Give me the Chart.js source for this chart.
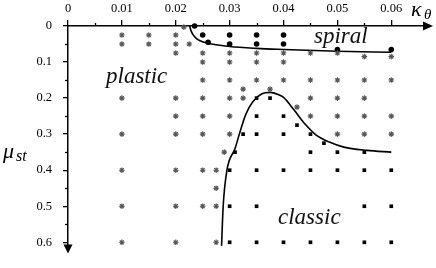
<!DOCTYPE html>
<html><head><meta charset="utf-8">
<script src="https://cdn.jsdelivr.net/npm/chart.js@4/dist/chart.umd.min.js"></script>
<style>html,body{margin:0;padding:0;background:#fff}</style>
</head><body>
<canvas id="c" width="436" height="268"></canvas>
<script>
// ---- data ----
const xTickLabels = ['0','0.01','0.02','0.03','0.04','0.05','0.06'];
const yTickLabels = ['0','0.1','0.2','0.3','0.4','0.5','0.6'];

// asterisks (plastic regime)
const starX = [0.0215,
  0.01,0.01,0.01,0.01,0.01,0.01,0.01,
  0.015,0.015,
  0.02,0.02,0.02,0.02,0.02,0.02,0.02,0.02,0.02,
  0.0225,
  0.025,0.025,0.025,0.025,0.025,0.025,0.025,0.025,
  0.0275,0.0275,0.0275,0.0275,
  0.03,0.03,0.03,0.03,0.03,0.03,
  0.029,
  0.0325,0.0325,
  0.035,0.035,0.035,
  0.0375,
  0.04,0.04,0.04,
  0.0425,
  0.045,0.045,0.045,0.045,
  0.05,0.05,0.05,0.05,0.05,
  0.055,0.055,0.055,0.055,0.055,
  0.06,0.06,0.06,0.06];
const starY = [0.003,
  0.025,0.05,0.2,0.3,0.4,0.5,0.6,
  0.025,0.05,
  0.025,0.05,0.075,0.2,0.25,0.3,0.4,0.5,0.6,
  0.05,
  0.075,0.1,0.15,0.2,0.25,0.3,0.4,0.5,
  0.4,0.45,0.5,0.6,
  0.075,0.1,0.15,0.2,0.25,0.3,
  0.35,
  0.175,0.2,
  0.075,0.1,0.15,
  0.175,
  0.075,0.1,0.15,
  0.225,
  0.075,0.15,0.2,0.25,
  0.075,0.15,0.2,0.25,0.3,
  0.085,0.15,0.2,0.25,0.3,
  0.085,0.15,0.25,0.3];

// filled circles (spiral regime)
const circleX = [0.0235,0.025,0.026,0.03,0.03,0.035,0.035,0.04,0.04,0.05,0.06];
const circleY = [0.0,0.025,0.045,0.025,0.05,0.025,0.05,0.025,0.05,0.065,0.065];

// filled squares (classic regime)
const squareX = [0.035,0.0375,
  0.035,0.04,
  0.0425,
  0.0325,0.035,0.04,0.045,
  0.0475,
  0.031,0.045,0.05,0.055,
  0.03,0.035,0.04,0.045,0.05,0.055,0.06,
  0.03,0.035,0.055,0.06,
  0.03,0.035,0.04,0.045,0.05,0.055,0.06];
const squareY = [0.2,0.2,
  0.25,0.25,
  0.275,
  0.3,0.3,0.3,0.3,
  0.325,
  0.35,0.35,0.35,0.35,
  0.4,0.4,0.4,0.4,0.4,0.4,0.4,
  0.5,0.5,0.5,0.5,
  0.6,0.6,0.6,0.6,0.6,0.6,0.6];

// boundary curves
const spiralCurveX = [0.0226,0.0228,0.0232,0.0237,0.0245,0.0257,0.0275,0.03,0.035,0.04,0.05,0.06];
const spiralCurveY = [0.0,0.012,0.024,0.033,0.041,0.047,0.052,0.057,0.062,0.065,0.07,0.073];
const classicCurveX = [0.0285,0.0288,0.0295,0.031,0.032,0.033,0.0343,0.036,0.0375,0.039,0.04,0.042,0.044,0.046,0.0485,0.0512,0.0555,0.06];
const classicCurveY = [0.61,0.5,0.4,0.34,0.29,0.245,0.21,0.188,0.184,0.19,0.198,0.234,0.272,0.302,0.322,0.336,0.345,0.35];

const zip = (xs, ys) => xs.map((x, i) => ({x, y: ys[i]}));

const overlay = {
  id: 'overlay',
  afterDraw(chart) {
    const ctx = chart.ctx, a = chart.chartArea;
    const xs = chart.scales.x, ys = chart.scales.y;
    ctx.save();
    ctx.strokeStyle = '#000'; ctx.fillStyle = '#000'; ctx.lineWidth = 1.3;
    // minor ticks
    for (let v = 0.005; v < 0.06; v += 0.01) {
      const px = Math.round(xs.getPixelForValue(v)) + 0.5;
      ctx.beginPath(); ctx.moveTo(px, a.top); ctx.lineTo(px, a.top - 3); ctx.stroke();
    }
    for (let v = 0.05; v < 0.6; v += 0.1) {
      const py = Math.round(ys.getPixelForValue(v)) + 0.5;
      ctx.beginPath(); ctx.moveTo(a.left, py); ctx.lineTo(a.left - 3, py); ctx.stroke();
    }
    // arrowheads
    ctx.beginPath();
    ctx.moveTo(a.right + 4, a.top); ctx.lineTo(a.right - 6, a.top - 4.5); ctx.lineTo(a.right - 6, a.top + 4.5); ctx.closePath(); ctx.fill();
    ctx.beginPath();
    ctx.moveTo(a.left, a.bottom + 4); ctx.lineTo(a.left - 4.5, a.bottom - 5); ctx.lineTo(a.left + 4.5, a.bottom - 5); ctx.closePath(); ctx.fill();
    // region labels
    ctx.font = 'italic 23px "Liberation Serif"';
    ctx.textAlign = 'left'; ctx.textBaseline = 'alphabetic';
    ctx.fillStyle = '#111';
    ctx.fillText('spiral', 314, 43);
    ctx.fillText('plastic', 106, 83);
    ctx.fillText('classic', 278, 224);
    // axis titles
    ctx.fillStyle = '#000';
    ctx.font = 'italic 22px "Liberation Serif"';
    ctx.fillText('\u03BA', 411, 16);
    ctx.font = 'italic 15px "Liberation Serif"';
    ctx.fillText('\u03B8', 424, 19);
    ctx.font = 'italic 22px "Liberation Serif"';
    ctx.fillText('\u03BC', 3, 158);
    ctx.font = 'italic 16px "Liberation Serif"';
    ctx.fillText('st', 16, 161);
    ctx.restore();
  }
};

new Chart(document.getElementById('c'), {
  type: 'scatter',
  data: {
    datasets: [
      {data: zip(starX, starY), pointStyle: 'star', pointRadius: 2.8, borderColor: '#555', borderWidth: 1.1, backgroundColor: '#555', clip: false},
      {data: zip(circleX, circleY), pointStyle: 'circle', pointRadius: 2.8, borderColor: '#000', backgroundColor: '#000', borderWidth: 0, clip: false},
      {data: zip(squareX, squareY), pointStyle: 'rect', pointRadius: 2.6, borderColor: '#000', backgroundColor: '#000', borderWidth: 0, clip: false},
      {data: zip(spiralCurveX, spiralCurveY), showLine: true, pointRadius: 0, borderColor: '#000', borderWidth: 1.6, cubicInterpolationMode: 'monotone', clip: false},
      {data: zip(classicCurveX, classicCurveY), showLine: true, pointRadius: 0, borderColor: '#000', borderWidth: 1.6, cubicInterpolationMode: 'monotone', clip: false}
    ]
  },
  options: {
    responsive: false, animation: false, devicePixelRatio: 1,
    layout: {padding: {left: 0, top: 0, right: 7, bottom: 6}},
    plugins: {legend: {display: false}, tooltip: {enabled: false}},
    scales: {
      x: {
        type: 'linear', position: 'top', min: 0, max: 0.067,
        afterBuildTicks: s => { s.ticks = xTickLabels.map(t => ({value: parseFloat(t)})); },
        afterFit: s => { s.height = 26; },
        ticks: {callback: (v) => xTickLabels.find(t => parseFloat(t) === v) ?? '', font: {family: 'Liberation Serif', size: 12.5}, color: '#000', padding: 4, maxRotation: 0},
        grid: {display: true, drawOnChartArea: false, drawTicks: true, tickLength: 6, color: '#000', lineWidth: 1.3},
        border: {display: true, color: '#000', width: 1.5}
      },
      y: {
        type: 'linear', position: 'left', reverse: true, min: 0, max: 0.62,
        afterBuildTicks: s => { s.ticks = yTickLabels.map(t => ({value: parseFloat(t)})); },
        afterFit: s => { s.width = 68; },
        ticks: {callback: (v) => yTickLabels.find(t => parseFloat(t) === v) ?? '', font: {family: 'Liberation Serif', size: 12.5}, color: '#000', padding: 11},
        grid: {display: true, drawOnChartArea: false, drawTicks: true, tickLength: 5, color: '#000', lineWidth: 1.3},
        border: {display: true, color: '#000', width: 1.5}
      }
    }
  },
  plugins: [overlay]
});
</script>
</body></html>
